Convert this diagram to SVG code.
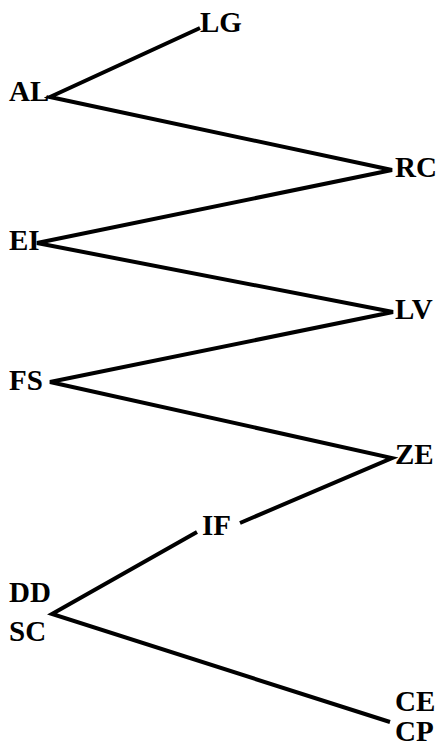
<svg xmlns="http://www.w3.org/2000/svg" width="438" height="747" viewBox="0 0 438 747">
<style>
.e{fill:none;stroke:#000;stroke-width:4;stroke-linejoin:miter;stroke-linecap:butt}
text{font-family:"Liberation Serif","Times New Roman",serif;font-weight:bold;font-size:29px;fill:#000}
</style>
<rect width="438" height="747" fill="#fff"/>
<g id="connectors">
<polyline class="e" points="200,28 50,97 392,170 37,243 393,312 50,382 392,458 240,523"/>
<polyline class="e" points="197,532 52,614 390,722"/>
</g>
<g id="LG"><text x="200" y="32">LG</text></g>
<g id="AL"><text x="9" y="101">AL</text></g>
<g id="RC"><text x="395" y="177">RC</text></g>
<g id="EI"><text x="9" y="250">EI</text></g>
<g id="LV"><text x="395" y="319">LV</text></g>
<g id="FS"><text x="9" y="390">FS</text></g>
<g id="ZE"><text x="395" y="464">ZE</text></g>
<g id="IF"><text x="202" y="535">IF</text></g>
<g id="DDSC"><text x="9" y="602">DD</text><text x="9" y="641">SC</text></g>
<g id="CECP"><text x="395" y="711">CE</text><text x="395" y="741">CP</text></g>
</svg>
